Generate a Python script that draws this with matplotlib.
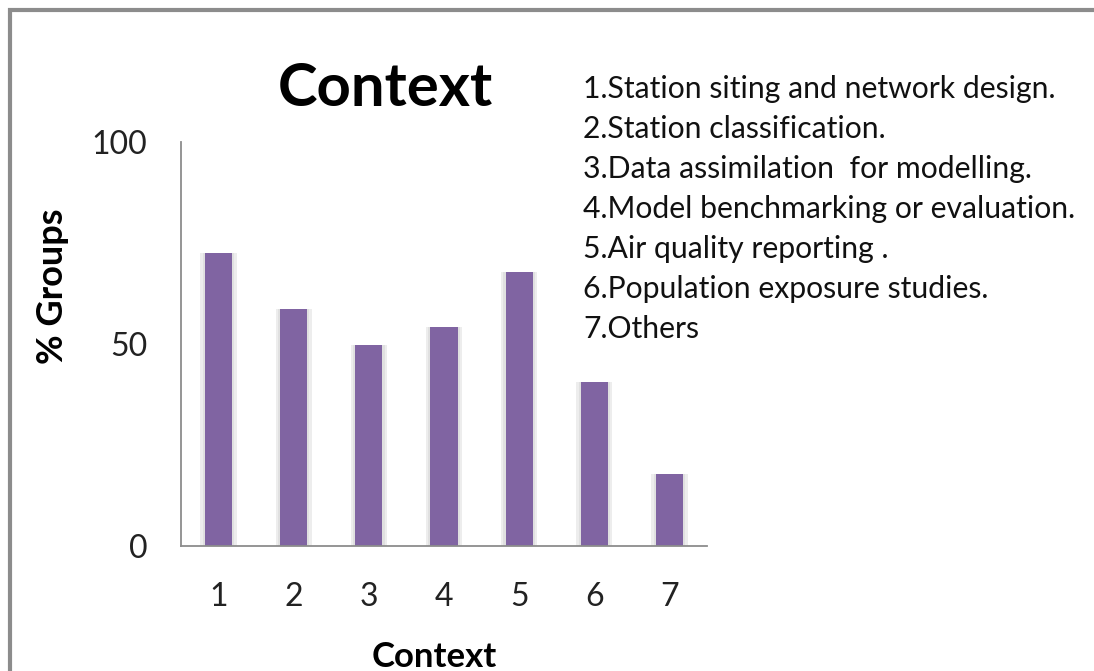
import matplotlib.pyplot as plt
from matplotlib.patches import Rectangle

plt.rcParams['font.family'] = ['Lato', 'DejaVu Sans']

categories = ['1', '2', '3', '4', '5', '6', '7']
values = [72.5, 58.7, 49.8, 54.2, 67.8, 40.6, 17.8]
legend_lines = [
    '1.Station siting and network design.',
    '2.Station classification.',
    '3.Data assimilation  for modelling.',
    '4.Model benchmarking or evaluation.',
    '5.Air quality reporting .',
    '6.Population exposure studies.',
    '7.Others',
]

fig = plt.figure(figsize=(10.94, 6.71), dpi=100)
ax = fig.add_axes([0.1654, 0.1863, 0.4809, 0.6021])

x = range(1, len(categories) + 1)
# soft shadow behind bars
ax.bar(x, values, width=0.48, color='#ededed', zorder=1)
ax.bar(x, values, width=0.42, color='#e0e0e0', zorder=1)
ax.bar(x, values, width=0.36, color='#8064A2', zorder=2)

ax.set_xlim(0.5, 7.5)
ax.set_ylim(0, 100)
ax.set_yticks([0, 50, 100])
ax.set_xticks(list(x))
ax.set_xticklabels(categories)
ax.tick_params(axis='both', length=0, labelsize=23, colors='#222222')
ax.tick_params(axis='y', pad=24)
ax.tick_params(axis='x', pad=26)
for s in ['top', 'right']:
    ax.spines[s].set_visible(False)
for s in ['left', 'bottom']:
    ax.spines[s].set_color('#8c8c8c')
    ax.spines[s].set_linewidth(1.3)

ax.set_xlabel('Context', fontsize=25, fontweight='bold')
ax.set_ylabel('% Groups', fontsize=26, fontweight='bold')
ax.xaxis.set_label_coords(0.481, -0.275)
ax.xaxis.label.set_va('center')
ax.yaxis.set_label_coords(-0.245, 0.644)
ax.yaxis.label.set_va('center')
ax.yaxis.label.set_ha('center')

fig.text(0.352, 0.868, 'Context', fontsize=43, fontweight='bold', ha='center', va='center')

for i, line in enumerate(legend_lines):
    fig.text(0.533, 0.868 - i * 0.0598, line, fontsize=21.7, ha='left', va='center', color='#111111')

# outer frame (left and top edges visible)
fig.patches.append(Rectangle((0.0095, -0.05), 1.2, 1.035, transform=fig.transFigure,
                             fill=False, edgecolor='#8c8c8c', linewidth=3))

fig.savefig('out.png', dpi=100)
